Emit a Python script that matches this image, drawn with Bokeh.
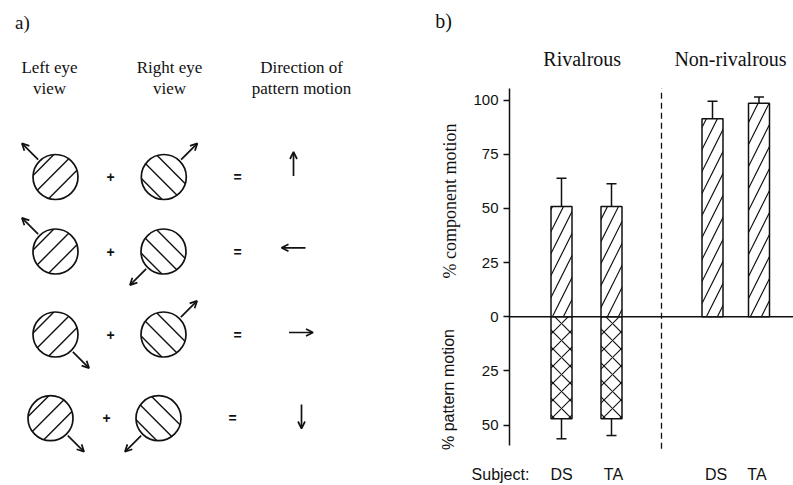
import numpy as np
from bokeh.plotting import figure
from bokeh.models import (Range1d, FixedTicker, CustomJSTickFormatter, LinearAxis,
                          ColumnDataSource, Whisker, TeeHead, Arrow, OpenHead)
from bokeh.embed import file_html
from bokeh.resources import INLINE
from bokeh.core.properties import value

# ---------------- data: panel b ----------------
subjects = ["DS", "TA", "DS", "TA"]
condition_names = ["Rivalrous", "Non-rivalrous"]
component_pct = [50.9, 50.9, 91.4, 98.6]
component_err = [13.1, 10.5, 8.1, 2.8]
pattern_pct = [47.1, 47.1]          # rivalrous condition only
pattern_err = [9.2, 7.7]
y_ticks = [-50, -25, 0, 25, 50, 75, 100]

# ---------------- data: panel a (stimulus diagram) ----------------
headings = ["Left eye\nview", "Right eye\nview", "Direction of\npattern motion"]
left_eye_dirs = ["NW", "NW", "SE", "SE"]
right_eye_dirs = ["NE", "SW", "NE", "SW"]
pattern_dirs = ["up", "left", "right", "down"]

# ---------------- layout (positions / sizes) ----------------
W, H = 793, 485
bar_x = [1.0, 2.0, 4.02, 4.95]       # bar-chart x units (1 unit = 50 px)
bar_w = 0.42
divider_x = 3.0
axis_x = -0.04
x_lo, x_hi = -10.22, 5.64           # whole canvas in bar-chart x units
y_lo, y_hi = -77.86, 145.98         # whole canvas in bar-chart y units
axis_lo, axis_hi = -59.4, 105.4

row_y = [176.5, 251.0, 334.0, 417.7]
left_cx = [55, 55, 55, 50]
right_cx = [163.3, 163, 163, 158]
plus_x = [110, 110, 110, 106]
eq_x = [237, 237, 237, 232]
pat_cx = [293, 293, 300.5, 301]
pat_cy = [163.5, 247.3, 332, 416]
R = 22.5

SERIF = "Liberation Serif"
SANS = "Liberation Sans"
INK = "#111111"

p = figure(width=W, height=H, x_range=Range1d(x_lo, x_hi), y_range=Range1d(y_lo, y_hi),
           output_backend="svg", toolbar_location=None,
           x_axis_location=None, y_axis_location=None,
           min_border_left=0, min_border_right=0, min_border_top=0, min_border_bottom=0)
p.grid.visible = False
p.outline_line_color = None
p.extra_x_ranges = {"px": Range1d(0, W)}
p.extra_y_ranges = {"px": Range1d(H, 0)}

def ptext(x, y, t, font, size, angle=0.0, style="normal"):
    p.text(x=x, y=y, text=t, text_font=value(font), text_font_size=size, angle=angle,
           text_font_style=style,
           text_align="center", text_baseline="middle", text_color=INK,
           x_range_name="px", y_range_name="px")

# ================= panel a =================
ptext([22], [22], ["a)"], SERIF, "19px")
head_x = [49, 169, 301]
for hx, h in zip(head_x, headings):
    l1, l2 = h.split("\n")
    ptext([hx, hx], [67, 88], [l1, l2], SERIF, "17px")

dvec = {"NW": (-1, -1), "NE": (1, -1), "SE": (1, 1), "SW": (-1, 1)}
cxs, cys = [], []
hx0, hy0, hx1, hy1 = [], [], [], []
ax0, ay0, ax1, ay1 = [], [], [], []
s2 = np.sqrt(2)
for i, y in enumerate(row_y):
    for cx, d, kind in ((left_cx[i], left_eye_dirs[i], "L"), (right_cx[i], right_eye_dirs[i], "R")):
        cxs.append(cx); cys.append(y)
        if kind == "L":
            u = np.array([1, -1]) / s2; n = np.array([1, 1]) / s2
        else:
            u = np.array([1, 1]) / s2; n = np.array([1, -1]) / s2
        for o in [-17.0, -3.5, 10.5]:
            h = np.sqrt(R * R - o * o)
            c = np.array([cx, y]) + o * n
            hx0.append(c[0] - h * u[0]); hy0.append(c[1] - h * u[1])
            hx1.append(c[0] + h * u[0]); hy1.append(c[1] + h * u[1])
        vx, vy = dvec[d]
        vx, vy = vx / s2, vy / s2
        ax0.append(cx + (R + 2) * vx); ay0.append(y + (R + 2) * vy)
        ax1.append(cx + (R + 25) * vx); ay1.append(y + (R + 25) * vy)
    vx, vy = {"up": (0, -1), "down": (0, 1), "left": (-1, 0), "right": (1, 0)}[pattern_dirs[i]]
    L = 12
    ax0.append(pat_cx[i] - L * vx); ay0.append(pat_cy[i] - L * vy)
    ax1.append(pat_cx[i] + L * vx); ay1.append(pat_cy[i] + L * vy)

p.circle(x=cxs, y=cys, radius=R, fill_color=None, line_color=INK, line_width=1.7,
         x_range_name="px", y_range_name="px")
p.segment(x0=hx0, y0=hy0, x1=hx1, y1=hy1, line_color=INK, line_width=1.4,
          x_range_name="px", y_range_name="px")
ptext(plus_x, row_y, ["+"] * 4, SANS, "14px", style="bold")
ptext(eq_x, row_y, ["="] * 4, SANS, "14px", style="bold")
asrc = ColumnDataSource(dict(x0=ax0, y0=ay0, x1=ax1, y1=ay1))
p.add_layout(Arrow(source=asrc, x_start="x0", y_start="y0", x_end="x1", y_end="y1",
                   line_width=1.7, line_color=INK, x_range_name="px", y_range_name="px",
                   end=OpenHead(size=7, line_width=1.7, line_color=INK)))

# ================= panel b =================
ya = LinearAxis(fixed_location=axis_x, bounds=(axis_lo, axis_hi))
ya.ticker = FixedTicker(ticks=y_ticks)
ya.formatter = CustomJSTickFormatter(code="return Math.abs(tick).toFixed(0);")
ya.major_tick_out = 6
ya.major_tick_in = 0
ya.minor_tick_out = 0
ya.minor_tick_in = 0
ya.axis_line_width = 1.5
ya.axis_line_color = INK
ya.major_tick_line_width = 1.5
ya.major_tick_line_color = INK
ya.major_label_text_font = SANS
ya.major_label_text_font_size = "15px"
ya.major_label_text_color = INK
ya.major_label_standoff = 5
p.add_layout(ya, "left")

csrc = ColumnDataSource(dict(x=bar_x, top=component_pct,
                             err=[v + e for v, e in zip(component_pct, component_err)]))
p.vbar(x="x", top="top", bottom=0, width=bar_w, source=csrc, fill_color="white",
       line_color=INK, line_width=1.5, hatch_pattern="/", hatch_scale=22,
       hatch_weight=1.2, hatch_color=INK)
psrc = ColumnDataSource(dict(x=bar_x[:2], bottom=[-v for v in pattern_pct],
                             err=[-(v + e) for v, e in zip(pattern_pct, pattern_err)]))
p.vbar(x="x", top=0, bottom="bottom", width=bar_w, source=psrc, fill_color="white",
       line_color=INK, line_width=1.5, hatch_pattern="x", hatch_scale=17,
       hatch_weight=1.1, hatch_color=INK)

p.add_layout(Whisker(source=csrc, base="x", lower="top", upper="err", dimension="height",
                     line_width=1.5, line_color=INK,
                     upper_head=TeeHead(size=10, line_width=1.5, line_color=INK), lower_head=None))
p.add_layout(Whisker(source=psrc, base="x", lower="err", upper="bottom", dimension="height",
                     line_width=1.5, line_color=INK,
                     lower_head=TeeHead(size=10, line_width=1.5, line_color=INK), upper_head=None))

# zero line and divider
p.segment(x0=[axis_x], y0=[0], x1=[x_hi], y1=[0], line_color=INK, line_width=1.6)
p.segment(x0=[divider_x], y0=[axis_lo - 1.5], x1=[divider_x], y1=[axis_hi], line_color=INK,
          line_width=1.3, line_dash="6 4")

# texts of panel b (in canvas px units)
ptext([443], [20], ["b)"], SERIF, "20px")
ptext([581.7, 730], [58, 58], condition_names, SERIF, "20px")
ptext([449], [200.5], ["% component motion"], SERIF, "18px", angle=np.pi / 2)
ptext([448], [389], ["% pattern motion"], SANS, "16px", angle=np.pi / 2)
ptext([500], [474], ["Subject:"], SANS, "16px")
p.text(x=[1.0, 2.04, 4.09, 4.91], y=[(316.3 - 474) / 2.1667] * 4, text=subjects,
       text_font=value(SANS), text_font_size="16px", text_align="center",
       text_baseline="middle", text_color=INK)

open("out.html", "w").write(file_html(p, INLINE))
